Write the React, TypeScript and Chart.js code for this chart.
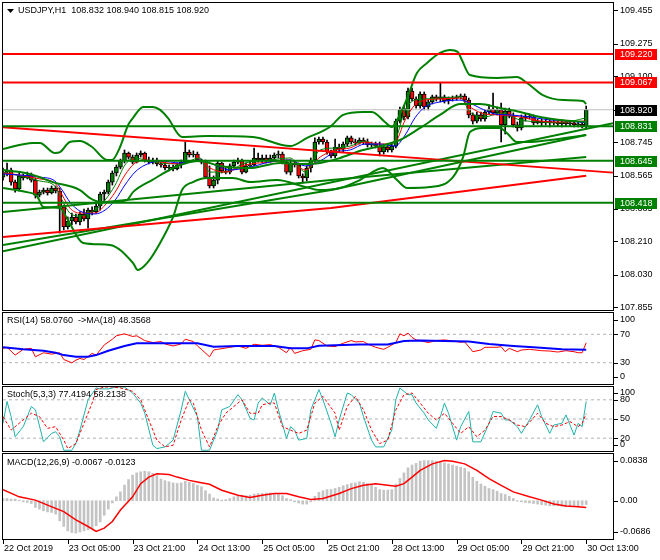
import React, { useEffect, useRef } from "react";
import { Chart, registerables } from "chart.js";
Chart.register(...registerables);

// ---------- time axis ----------
const timeLabels = ["22 Oct 2019", "23 Oct 05:00", "23 Oct 21:00", "24 Oct 13:00", "25 Oct 05:00", "25 Oct 21:00", "28 Oct 13:00", "29 Oct 05:00", "29 Oct 21:00", "30 Oct 13:00"];
const timeLabelBars = [0, 16, 32, 48, 64, 80, 96, 112, 128, 144];

// ---------- price axis ----------
const priceTicks = [109.455, 109.275, 109.1, 108.92, 108.745, 108.565, 108.385, 108.21, 108.03, 107.855];
const redLevels = [109.22, 109.067];
const greenLevels = [108.831, 108.645, 108.418];
const bidPrice = 108.92;

// ---------- candles (USDJPY H1) ----------
const openP = [
  108.557, 108.584, 108.595, 108.530, 108.493, 108.563, 108.552, 108.568, 108.541, 108.460,
  108.476, 108.487, 108.471, 108.498, 108.482, 108.396, 108.288, 108.320, 108.342, 108.315,
  108.358, 108.331, 108.379, 108.369, 108.401, 108.466, 108.476, 108.530, 108.579, 108.611,
  108.644, 108.687, 108.665, 108.638, 108.676, 108.687, 108.649, 108.638, 108.649, 108.628,
  108.622, 108.606, 108.611, 108.601, 108.622, 108.638, 108.692, 108.676, 108.681, 108.649,
  108.638, 108.557, 108.509, 108.541, 108.633, 108.590, 108.584, 108.617, 108.638, 108.644,
  108.584, 108.617, 108.622, 108.660, 108.649, 108.660, 108.644, 108.660, 108.676, 108.681,
  108.638, 108.584, 108.633, 108.622, 108.563, 108.552, 108.606, 108.649, 108.746, 108.762,
  108.746, 108.692, 108.671, 108.719, 108.708, 108.735, 108.768, 108.746, 108.741, 108.757,
  108.746, 108.730, 108.735, 108.724, 108.692, 108.719, 108.703, 108.724, 108.859, 108.919,
  108.881, 109.021, 108.978, 108.940, 109.005, 108.935, 108.962, 108.989, 108.978, 108.989,
  108.967, 108.978, 108.983, 108.989, 108.994, 108.972, 108.892, 108.859, 108.892, 108.870,
  108.908, 108.924, 108.903, 108.919, 108.838, 108.913, 108.886, 108.838, 108.822, 108.876,
  108.886, 108.881, 108.849, 108.859, 108.849, 108.859, 108.849, 108.854, 108.843, 108.854,
  108.843, 108.849, 108.838, 108.843, 108.832,
];
const highP = [
  108.606, 108.633, 108.606, 108.541, 108.579, 108.574, 108.584, 108.579, 108.552, 108.487,
  108.498, 108.498, 108.509, 108.509, 108.498, 108.406, 108.342, 108.363, 108.358, 108.369,
  108.385, 108.390, 108.396, 108.412, 108.476, 108.487, 108.541, 108.590, 108.622, 108.654,
  108.703, 108.692, 108.676, 108.687, 108.698, 108.692, 108.665, 108.660, 108.660, 108.638,
  108.638, 108.622, 108.622, 108.633, 108.649, 108.746, 108.703, 108.698, 108.692, 108.654,
  108.649, 108.617, 108.563, 108.644, 108.638, 108.606, 108.628, 108.649, 108.660, 108.654,
  108.633, 108.644, 108.714, 108.687, 108.676, 108.676, 108.676, 108.687, 108.698, 108.692,
  108.649, 108.649, 108.644, 108.633, 108.574, 108.617, 108.660, 108.768, 108.773, 108.773,
  108.757, 108.703, 108.762, 108.735, 108.746, 108.778, 108.778, 108.762, 108.768, 108.768,
  108.762, 108.746, 108.746, 108.746, 108.735, 108.730, 108.735, 108.870, 108.935, 108.940,
  109.037, 109.037, 108.989, 109.016, 109.016, 108.972, 108.999, 108.999, 109.064, 108.999,
  108.989, 108.994, 108.999, 109.005, 109.005, 108.983, 108.903, 108.908, 108.908, 108.919,
  108.946, 109.010, 108.935, 108.956, 108.929, 108.929, 108.903, 108.854, 108.892, 108.897,
  108.897, 108.892, 108.870, 108.870, 108.870, 108.870, 108.865, 108.859, 108.865, 108.859,
  108.859, 108.854, 108.854, 108.849, 108.940,
];
const lowP = [
  108.541, 108.563, 108.514, 108.476, 108.482, 108.541, 108.547, 108.530, 108.444, 108.450,
  108.466, 108.460, 108.466, 108.471, 108.255, 108.272, 108.277, 108.299, 108.304, 108.299,
  108.320, 108.282, 108.353, 108.363, 108.379, 108.428, 108.466, 108.514, 108.563, 108.601,
  108.633, 108.654, 108.628, 108.633, 108.665, 108.638, 108.628, 108.628, 108.617, 108.611,
  108.595, 108.590, 108.590, 108.595, 108.606, 108.628, 108.665, 108.665, 108.644, 108.628,
  108.552, 108.498, 108.498, 108.520, 108.579, 108.574, 108.574, 108.606, 108.628, 108.574,
  108.579, 108.606, 108.617, 108.638, 108.633, 108.633, 108.638, 108.649, 108.660, 108.628,
  108.574, 108.568, 108.611, 108.552, 108.525, 108.536, 108.584, 108.638, 108.735, 108.735,
  108.681, 108.660, 108.660, 108.692, 108.692, 108.724, 108.735, 108.730, 108.735, 108.735,
  108.719, 108.719, 108.714, 108.671, 108.681, 108.692, 108.692, 108.714, 108.849, 108.865,
  108.870, 108.967, 108.929, 108.929, 108.919, 108.919, 108.951, 108.967, 108.962, 108.956,
  108.951, 108.967, 108.972, 108.978, 108.962, 108.876, 108.843, 108.849, 108.859, 108.859,
  108.897, 108.892, 108.892, 108.746, 108.789, 108.876, 108.827, 108.805, 108.811, 108.859,
  108.870, 108.838, 108.843, 108.832, 108.838, 108.827, 108.838, 108.832, 108.827, 108.832,
  108.832, 108.827, 108.827, 108.822, 108.815,
];
const closeP = [
  108.584, 108.595, 108.530, 108.493, 108.563, 108.552, 108.568, 108.541, 108.460, 108.476,
  108.487, 108.471, 108.498, 108.482, 108.396, 108.288, 108.320, 108.342, 108.315, 108.358,
  108.331, 108.379, 108.369, 108.401, 108.466, 108.476, 108.530, 108.579, 108.611, 108.644,
  108.687, 108.665, 108.638, 108.676, 108.687, 108.649, 108.638, 108.649, 108.628, 108.622,
  108.606, 108.611, 108.601, 108.622, 108.638, 108.692, 108.676, 108.681, 108.649, 108.638,
  108.557, 108.509, 108.541, 108.633, 108.590, 108.584, 108.617, 108.638, 108.644, 108.584,
  108.617, 108.622, 108.660, 108.649, 108.660, 108.644, 108.660, 108.676, 108.681, 108.638,
  108.584, 108.633, 108.622, 108.563, 108.552, 108.606, 108.649, 108.746, 108.762, 108.746,
  108.692, 108.671, 108.719, 108.708, 108.735, 108.768, 108.746, 108.741, 108.757, 108.746,
  108.730, 108.735, 108.724, 108.692, 108.719, 108.703, 108.724, 108.859, 108.919, 108.881,
  109.021, 108.978, 108.940, 109.005, 108.935, 108.962, 108.989, 108.978, 108.989, 108.967,
  108.978, 108.983, 108.989, 108.994, 108.972, 108.892, 108.859, 108.892, 108.870, 108.908,
  108.924, 108.903, 108.919, 108.838, 108.913, 108.886, 108.838, 108.822, 108.876, 108.886,
  108.881, 108.849, 108.859, 108.849, 108.859, 108.849, 108.854, 108.843, 108.854, 108.843,
  108.849, 108.838, 108.843, 108.832, 108.920,
];

// ---------- main-panel indicators [bar, price] ----------
const bbUpper = [[0,108.708],[7.4,108.741],[9.1,108.741],[12.8,108.687],[14.1,108.692],[16.5,108.746],[19,108.751],[22,108.719],[25.7,108.649],[26.9,108.649],[28.9,108.719],[30.9,108.838],[32.1,108.876],[34.6,108.935],[37,108.935],[38.8,108.919],[40.7,108.876],[44.2,108.773],[50.6,108.778],[61.7,108.773],[70.9,108.724],[75.1,108.768],[80.7,108.827],[84,108.892],[88.9,108.908],[91.1,108.908],[94.3,108.854],[96,108.827],[97.3,108.865],[99.8,108.983],[102.2,109.118],[104.7,109.172],[107.9,109.226],[110.4,109.242],[112.3,109.231],[113.3,109.188],[115.3,109.107],[122,109.091],[126.9,109.096],[129.4,109.064],[133.3,108.999],[138.3,108.972],[143.2,108.967],[144,108.951]];
const bbMiddle = [[0,108.595],[4.2,108.584],[7.4,108.568],[12.3,108.530],[19,108.487],[21.5,108.444],[24,108.423],[27.2,108.423],[30.6,108.433],[32.1,108.476],[36.8,108.541],[43.7,108.622],[48.6,108.644],[53.6,108.617],[61,108.606],[68.4,108.633],[73.3,108.628],[78.3,108.633],[83.2,108.660],[88.1,108.698],[93.1,108.724],[98,108.757],[103,108.822],[107.9,108.892],[112.8,108.951],[117.8,108.951],[122.7,108.929],[127.7,108.908],[132.6,108.881],[137.5,108.865],[144,108.854]];
const bbLower = [[0,108.498],[5.9,108.476],[8.4,108.455],[9.9,108.396],[14.1,108.390],[16,108.326],[19.8,108.202],[26.4,108.191],[32.1,108.094],[33.3,108.056],[35.6,108.094],[38.8,108.202],[42,108.342],[44.2,108.487],[46.9,108.530],[50.4,108.552],[56.8,108.552],[61,108.530],[67.7,108.541],[73.8,108.509],[78.3,108.487],[83.2,108.498],[88.1,108.541],[93.8,108.606],[97.3,108.541],[99.8,108.498],[105.4,108.503],[111.1,108.557],[113.6,108.665],[115.3,108.800],[118.5,108.822],[122.7,108.822],[124.4,108.795],[126.9,108.746],[129.4,108.746],[135.1,108.757],[144,108.784]];
const maBlue = [[0,108.574],[4.2,108.568],[9.1,108.557],[12.8,108.536],[14.6,108.487],[16.5,108.423],[19,108.374],[22.7,108.358],[25.2,108.379],[27.7,108.433],[30.1,108.514],[32.6,108.584],[35.1,108.622],[38.8,108.644],[43.7,108.633],[48.6,108.649],[52.3,108.622],[56,108.595],[61,108.611],[65.9,108.638],[70.9,108.649],[74.6,108.617],[78.3,108.644],[82,108.692],[85.7,108.703],[89.4,108.735],[93.1,108.735],[96.8,108.724],[99.3,108.784],[101.7,108.876],[104.2,108.935],[107.9,108.962],[112.8,108.972],[115.3,108.956],[117.8,108.929],[121.5,108.897],[125.2,108.892],[130.1,108.881],[135.1,108.865],[140,108.859],[144,108.849]];
const maRed = [[0,108.579],[4.2,108.568],[9.1,108.547],[12.8,108.525],[14.6,108.460],[16.5,108.390],[19,108.363],[22.7,108.363],[25.2,108.406],[27.7,108.476],[30.1,108.568],[32.6,108.633],[35.1,108.649],[38.8,108.638],[43.7,108.628],[48.6,108.649],[51.1,108.606],[54.8,108.584],[59.8,108.622],[65.9,108.638],[70.9,108.649],[74.6,108.595],[78.3,108.665],[82,108.703],[85.7,108.714],[89.4,108.746],[93.1,108.735],[96.8,108.746],[99.3,108.865],[101.7,108.946],[104.2,108.972],[107.9,108.978],[112.8,108.983],[115.3,108.935],[119,108.897],[122.7,108.892],[127.7,108.881],[132.6,108.859],[137.5,108.854],[144,108.859]];
const maGreen = [[0,108.584],[4.2,108.563],[9.1,108.536],[12.8,108.509],[14.6,108.433],[16.5,108.363],[19,108.347],[22.7,108.379],[25.2,108.433],[27.7,108.514],[30.1,108.622],[32.6,108.660],[35.1,108.649],[38.8,108.633],[43.7,108.628],[48.6,108.660],[51.1,108.584],[54.8,108.584],[59.8,108.633],[65.9,108.649],[70.9,108.660],[74.6,108.584],[78.3,108.703],[82,108.714],[85.7,108.724],[89.4,108.751],[93.1,108.719],[96.8,108.757],[99.3,108.919],[101.7,108.972],[104.2,108.978],[107.9,108.983],[112.8,108.989],[115.3,108.908],[119,108.881],[122.7,108.903],[127.7,108.865],[132.6,108.854],[137.5,108.849],[144,108.876]];
const redTrendDown = [[0,108.825],[150.6,108.581]];
const redTrendUp = [[0,108.234],[81,108.390],[144,108.564]];
const greenTrendA = [[0,108.369],[81,108.541],[144,108.665]];
const greenTrendB = [[0,108.191],[81,108.487],[144,108.784]];
const greenTrendC = [[0,108.157],[150.6,108.847]];

// ---------- RSI ----------
const rsiLine = [[0,50.2],[1,51.7],[3,40.7],[5,48.8],[7,50.2],[8,38.3],[10,44],[12,42.1],[14,44],[15,34.5],[17,29.8],[18,33.6],[19,36],[20,34.5],[22,43.1],[23,40.7],[25,55],[27,63.1],[28,67.9],[30,70.7],[32,66.9],[33,67.9],[35,61.2],[37,58.3],[39,59.8],[40,56.4],[42,53.6],[44,56.4],[45,63.1],[47,59.8],[48,53.6],[49,48.8],[51,38.3],[52,47.9],[53,48.8],[56,51.7],[58,53.6],[60,50.2],[62,56],[64,54.5],[66,55.5],[68,51.7],[70,44],[71,51.7],[72,43.1],[74,46.9],[76,48.8],[77,62.1],[78,61.2],[80,53.6],[82,52.6],[83,55],[84,57.4],[86,61.2],[87,59.3],[89,59.8],[90,56.4],[92,51.7],[94,48.8],[95,51.7],[97,58.3],[98,70.7],[99,67.9],[100,71.7],[101,65.5],[102,62.1],[103,61.2],[105,58.3],[107,61.2],[109,62.1],[111,60.7],[113,58.8],[114,59.3],[116,45.5],[118,47.9],[119,51.7],[122,51.7],[123,52.6],[124,45.5],[125,50.2],[127,45.5],[128,47.9],[130,48.8],[133,46.9],[135,46.4],[137,45],[139,46.9],[141,45.5],[142,44],[143,44],[144,58.08]];
const rsiMa = [[0,51.7],[5,48.8],[10,46.9],[13,44],[15,40.7],[18,38.3],[21,38.3],[23,40.7],[26,46.9],[30,53.6],[33,57.4],[37,57.4],[43,57.4],[48,57.4],[52,52.6],[58,53.6],[67,53.6],[71,50.2],[75,50.2],[78,54],[88,55.5],[95,55.5],[99,60.7],[103,61.2],[115,59.8],[120,56.4],[126,53.6],[131,51.7],[138,48.8],[144,48.36]];
const rsiLevels = [70, 30];

// ---------- Stochastic ----------
const stochK = [[0,43.3],[1,77.5],[2,53.8],[3,22.2],[5,38],[7,69.6],[8,64.3],[10,14.3],[12,27.5],[13,30.1],[14,22.2],[15,1.2],[17,1.2],[18,11.7],[19,32.7],[21,80.1],[23,98.5],[24,97],[26,97],[28,100],[30,100],[32,90.6],[34,74.9],[35,59.1],[37,9],[38,3.8],[40,6.4],[42,17],[44,64.3],[45,93.3],[46,80.1],[48,53.8],[49,1.2],[51,1.2],[53,32.7],[54,64.3],[56,69.6],[58,88],[59,80.1],[61,51.2],[62,48.5],[63,74.9],[64,82.8],[66,72.2],[67,90.6],[68,64.3],[70,19.6],[71,38],[72,32.7],[73,17],[75,19.6],[76,64.3],[78,95.9],[79,80.1],[81,43.3],[82,22.2],[83,48.5],[85,90.6],[86,88],[88,74.9],[89,53.8],[91,17],[92,6.4],[94,6.4],[96,32.7],[97,80.1],[98,98.5],[100,88],[101,88],[102,74.9],[104,59.1],[105,48.5],[107,35.4],[108,53.8],[109,74.9],[110,59.1],[112,17],[113,38],[115,61.7],[116,14.3],[118,14.3],[120,43.3],[121,61.7],[123,59.1],[124,48.5],[125,48.5],[127,38],[128,27.5],[130,48.5],[132,72.2],[133,53.8],[135,27.5],[136,40.6],[138,43.3],[139,56.4],[141,24.9],[142,43.3],[143,38],[144,77.42]];
const stochD = [[0,53.8],[2,32.7],[4,43.3],[7,59],[9,53.8],[11,35.4],[13,38],[15,17],[16,3.8],[18,11.7],[20,43.3],[22,74.9],[23,95.9],[25,100],[27,100],[29,98.5],[32,93.3],[34,80.1],[36,48.5],[38,17],[40,6.4],[42,9],[44,48.5],[46,80.1],[47,74.9],[49,32.7],[51,6.4],[53,38],[55,59],[58,74.9],[59,80.1],[61,59],[63,59],[64,72.2],[66,74.9],[67,74.9],[69,38],[71,32.7],[73,27.5],[75,32.7],[77,74.9],[79,85.4],[82,59],[83,32.7],[85,69.6],[87,85.4],[89,64.3],[91,32.7],[93,11.7],[95,17],[97,64.3],[99,88],[101,90.6],[103,74.9],[105,59],[107,48.5],[109,59],[111,43.3],[113,27.5],[115,38],[117,22.2],[119,32.7],[121,53.8],[123,53.8],[125,48.5],[127,40.6],[129,38],[132,59],[134,43.3],[136,38],[138,40.6],[140,45.9],[142,38],[143,43.3],[144,58.21]];
const stochLevels = [80, 50, 20];

// ---------- MACD ----------
const macdHist = [
  0.004, 0.004, 0.003, 0.003, 0.001, -0.002, -0.003, -0.005, -0.012, -0.015,
  -0.018, -0.020, -0.021, -0.024, -0.036, -0.046, -0.054, -0.057, -0.058, -0.056,
  -0.054, -0.052, -0.050, -0.045, -0.038, -0.026, -0.015, -0.004, 0.007, 0.016,
  0.028, 0.038, 0.046, 0.050, 0.052, 0.053, 0.052, 0.049, 0.045, 0.039,
  0.036, 0.034, 0.032, 0.031, 0.032, 0.035, 0.033, 0.031, 0.028, 0.025,
  0.018, 0.012, 0.005, 0.003, 0.001, 0.002, 0.004, 0.007, 0.008, 0.010,
  0.009, 0.010, 0.012, 0.013, 0.013, 0.014, 0.014, 0.013, 0.012, 0.009,
  0.004, 0.002, -0.002, -0.004, -0.006, -0.006, -0.002, 0.008, 0.015, 0.018,
  0.020, 0.020, 0.022, 0.024, 0.027, 0.029, 0.031, 0.032, 0.034, 0.033,
  0.031, 0.028, 0.024, 0.020, 0.019, 0.019, 0.020, 0.030, 0.040, 0.050,
  0.059, 0.064, 0.067, 0.071, 0.072, 0.072, 0.072, 0.071, 0.070, 0.068,
  0.066, 0.064, 0.062, 0.060, 0.058, 0.052, 0.042, 0.035, 0.030, 0.026,
  0.022, 0.020, 0.017, 0.013, 0.011, 0.008, 0.004, -0.001, -0.002, -0.003,
  -0.004, -0.005, -0.006, -0.007, -0.008, -0.009, -0.009, -0.009, -0.010, -0.011,
  -0.011, -0.010, -0.009, -0.008, -0.0067,
];
const macdSignal = [[0,0.020],[4,0.0070],[8,0.0011],[11,-0.0078],[15,-0.0196],[18,-0.0344],[21,-0.0462],[23,-0.0551],[25,-0.0492],[27,-0.0373],[29,-0.0167],[32,0.0070],[34,0.0306],[36,0.0424],[38,0.0483],[41,0.0472],[43,0.0424],[46,0.0365],[48,0.0336],[51,0.0294],[54,0.0188],[58,0.0099],[61,0.0058],[64,0.0099],[67,0.0129],[70,0.0129],[73,0.0070],[76,0.0022],[79,0.0040],[83,0.0129],[86,0.0217],[89,0.0277],[92,0.0306],[95,0.0277],[97,0.0259],[99,0.0306],[101,0.0424],[103,0.0543],[106,0.0661],[109,0.0720],[111,0.0708],[114,0.0661],[117,0.0543],[120,0.0395],[123,0.0277],[126,0.0158],[130,0.0070],[133,0.0011],[136,-0.0060],[139,-0.0096],[142,-0.0108],[144,-0.0123]];

// ---------- layout ----------
const W = 660;
const H = 560;
const PLOT_L = 3;
const PLOT_R = 613;
const X_MIN = 0;
const X_MAX = (PLOT_R - PLOT_L) / 4.05;
const FONT = '9px "Liberation Sans", Arial, sans-serif';
const GREEN = "#008000";
const RED = "#ff0000";

const pts = (a: number[][]) => a.map(([x, y]) => ({ x, y }));

function lineDs(data: number[][], color: string, width: number, extra: any = {}) {
  return {
    type: "line",
    data: pts(data),
    borderColor: color,
    borderWidth: width,
    pointRadius: 0,
    fill: false,
    tension: 0,
    order: 0,
    ...extra,
  };
}
function hLine(v: number, color: string, width: number, extra: any = {}) {
  return lineDs([[X_MIN, v], [X_MAX, v]], color, width, extra);
}

function makeOverlay(o: any) {
  return {
    id: "overlay",
    afterDraw(chart: any) {
      const { ctx, chartArea: a, scales } = chart;
      const ys = scales.y;
      const xs = scales.x;
      ctx.save();
      ctx.strokeStyle = "#000";
      ctx.lineWidth = 1;
      ctx.strokeRect(a.left - 0.5, a.top - 0.5, a.right - a.left + 1, a.bottom - a.top + 1);
      ctx.font = FONT;
      ctx.textBaseline = "middle";
      ctx.textAlign = "left";
      ctx.fillStyle = "#000";
      for (const [v, t] of o.yLabels) {
        let py = ys.getPixelForValue(v);
        py = Math.min(Math.max(py, a.top + o.clamp), a.bottom - o.clamp);
        const ry = Math.round(py) + 0.5;
        ctx.beginPath();
        ctx.moveTo(a.right + 1, ry);
        ctx.lineTo(a.right + 5, ry);
        ctx.stroke();
        ctx.fillText(t, a.right + 7, py);
      }
      if (o.boxes) {
        for (const [v, t, bg] of o.boxes) {
          const py = ys.getPixelForValue(v);
          ctx.fillStyle = bg;
          ctx.fillRect(a.right + 2, Math.round(py) - 5, 42, 11);
          ctx.fillStyle = "#fff";
          ctx.fillText(t, a.right + 7, py + 0.5);
        }
      }
      ctx.fillStyle = "#000";
      if (o.triangle) {
        ctx.beginPath();
        ctx.moveTo(a.left + 4, a.top + 6);
        ctx.lineTo(a.left + 11, a.top + 6);
        ctx.lineTo(a.left + 7.5, a.top + 10);
        ctx.closePath();
        ctx.fill();
      }
      if (o.header) ctx.fillText(o.header, a.left + o.headerX, a.top + o.headerY);
      if (o.xAxis) {
        timeLabelBars.forEach((b, i) => {
          const px = xs.getPixelForValue(b);
          const rx = Math.round(px) + 0.5;
          ctx.beginPath();
          ctx.moveTo(rx, a.bottom + 1);
          ctx.lineTo(rx, a.bottom + 5);
          ctx.stroke();
          ctx.fillText(timeLabels[i], px + 1, a.bottom + 10);
        });
      }
      ctx.restore();
    },
  };
}

function baseOptions(top: number, bottom: number, ymin: number, ymax: number) {
  return {
    responsive: false,
    animation: false,
    devicePixelRatio: 1,
    events: [],
    layout: { padding: { left: PLOT_L, right: W - PLOT_R, top, bottom: H - bottom } },
    scales: {
      x: { type: "linear", display: false, offset: false, min: X_MIN, max: X_MAX, grid: { offset: false } },
      y: { type: "linear", display: false, offset: false, min: ymin, max: ymax },
    },
    plugins: { legend: { display: false }, tooltip: { enabled: false } },
  };
}

function mainConfig(): any {
  const top = 3, bottom = 310;
  const pxPerUnit = 185.5;
  const ymax = 109.455 + (10.5 - top) / pxPerUnit;
  const ymin = 109.455 - (bottom - 10.5) / pxPerUnit;
  const bodyColors = openP.map((o, i) => (closeP[i] >= o ? GREEN : RED));
  const smooth = { cubicInterpolationMode: "monotone" };
  return {
    type: "line",
    data: {
      datasets: [
        hLine(redLevels[0], RED, 2),
        hLine(redLevels[1], RED, 2),
        ...greenLevels.map((v) => hLine(v, GREEN, 2)),
        hLine(bidPrice, "#c0c0c0", 1, { order: 1 }),
        lineDs(redTrendDown, RED, 2),
        lineDs(redTrendUp, RED, 2),
        lineDs(greenTrendA, GREEN, 2),
        lineDs(greenTrendB, GREEN, 2),
        lineDs(greenTrendC, GREEN, 2),
        lineDs(bbUpper, GREEN, 2, smooth),
        lineDs(bbMiddle, GREEN, 2, smooth),
        lineDs(bbLower, GREEN, 2, smooth),
        lineDs(maBlue, "#0000ff", 1, smooth),
        lineDs(maRed, RED, 1, smooth),
        lineDs(maGreen, GREEN, 1, smooth),
        {
          type: "bar",
          data: openP.map((o, i) => ({ x: i, y: [o, closeP[i]] })),
          backgroundColor: bodyColors,
          borderColor: "#000",
          borderWidth: 1,
          borderSkipped: false,
          barThickness: 4,
          minBarLength: 1,
          grouped: false,
          order: 5,
        },
        {
          type: "bar",
          data: lowP.map((l, i) => ({ x: i, y: [l, highP[i]] })),
          backgroundColor: "#000",
          borderWidth: 0,
          barThickness: 1,
          grouped: false,
          order: 6,
        },
      ],
    },
    options: baseOptions(top, bottom, ymin, ymax),
    plugins: [
      makeOverlay({
        yLabels: priceTicks.map((v) => [v, v.toFixed(3)]),
        clamp: 0,
        boxes: [
          [109.22, "109.220", RED],
          [109.067, "109.067", RED],
          [108.92, "108.920", "#000"],
          [108.831, "108.831", GREEN],
          [108.645, "108.645", GREEN],
          [108.418, "108.418", GREEN],
        ],
        triangle: true,
        header: "USDJPY,H1  108.832 108.940 108.815 108.920",
        headerX: 15,
        headerY: 8,
      }),
    ],
  };
}

const levelStyle = { borderDash: [3, 3], order: 2 };

function rsiConfig(): any {
  return {
    type: "line",
    data: {
      datasets: [
        ...rsiLevels.map((v) => hLine(v, "#b4b4b4", 1, levelStyle)),
        lineDs(rsiMa, "#0000ff", 2),
        lineDs(rsiLine, RED, 1),
      ],
    },
    options: baseOptions(313, 384, 0, 100),
    plugins: [
      makeOverlay({
        yLabels: [[100, "100"], [70, "70"], [30, "30"], [0, "0"]],
        clamp: 7,
        header: "RSI(14) 58.0760  ->MA(18) 48.3568",
        headerX: 4,
        headerY: 8,
      }),
    ],
  };
}

function stochConfig(): any {
  return {
    type: "line",
    data: {
      datasets: [
        ...stochLevels.map((v) => hLine(v, "#b4b4b4", 1, levelStyle)),
        lineDs(stochD, RED, 1, { borderDash: [3, 2] }),
        lineDs(stochK, "#20b2aa", 1),
      ],
    },
    options: baseOptions(387, 451, 0, 100),
    plugins: [
      makeOverlay({
        yLabels: [[100, "100"], [80, "80"], [50, "50"], [20, "20"], [0, "0"]],
        clamp: 6,
        header: "Stoch(5,3,3) 77.4194 58.2138",
        headerX: 4,
        headerY: 8,
      }),
    ],
  };
}

function macdConfig(): any {
  return {
    type: "line",
    data: {
      datasets: [
        lineDs(macdSignal, RED, 1.5, { order: 0 }),
        {
          type: "bar",
          data: macdHist.map((v, i) => ({ x: i, y: v })),
          backgroundColor: "#c4c4c4",
          borderWidth: 0,
          barThickness: 2,
          grouped: false,
          order: 3,
        },
      ],
    },
    options: baseOptions(454, 539, -0.0686, 0.0838),
    plugins: [
      makeOverlay({
        yLabels: [[0.0838, "0.0838"], [0, "0.00"], [-0.0686, "-0.0686"]],
        clamp: 7,
        header: "MACD(12,26,9) -0.0067 -0.0123",
        headerX: 4,
        headerY: 9,
        xAxis: true,
      }),
    ],
  };
}

export default function App() {
  const r1 = useRef<HTMLCanvasElement>(null);
  const r2 = useRef<HTMLCanvasElement>(null);
  const r3 = useRef<HTMLCanvasElement>(null);
  const r4 = useRef<HTMLCanvasElement>(null);
  useEffect(() => {
    const charts = [
      new Chart(r1.current as HTMLCanvasElement, mainConfig()),
      new Chart(r2.current as HTMLCanvasElement, rsiConfig()),
      new Chart(r3.current as HTMLCanvasElement, stochConfig()),
      new Chart(r4.current as HTMLCanvasElement, macdConfig()),
    ];
    return () => charts.forEach((c) => c.destroy());
  }, []);
  const cs: any = { position: "absolute", left: 0, top: 0, width: W, height: H };
  return (
    <div style={{ position: "fixed", left: 0, top: 0, width: W, height: H, background: "#fff" }}>
      <canvas ref={r1} width={W} height={H} style={cs} />
      <canvas ref={r2} width={W} height={H} style={cs} />
      <canvas ref={r3} width={W} height={H} style={cs} />
      <canvas ref={r4} width={W} height={H} style={cs} />
    </div>
  );
}
